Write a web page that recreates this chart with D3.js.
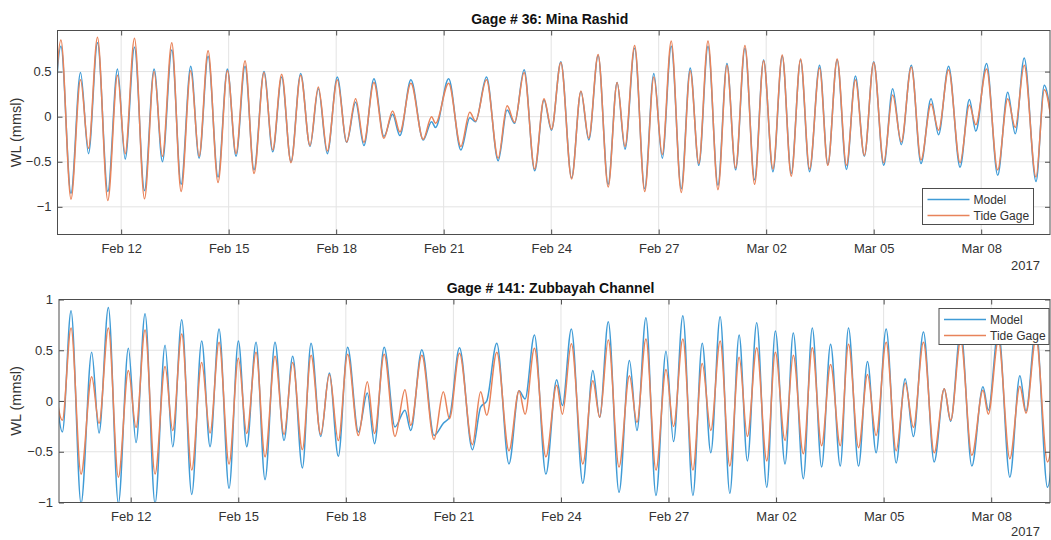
<!DOCTYPE html>
<html>
<head>
<meta charset="utf-8">
<script src="https://cdn.jsdelivr.net/npm/d3@7"></script>
<style>
  body { margin: 0; background: #fff; }
  svg text { font-family: "Liberation Sans", Arial, Helvetica, sans-serif; fill: #333; }
</style>
</head>
<body>
<svg id="chart" width="1051" height="540"></svg>
<script>
// high / low water turning points, days after 2017-02-10 00:00
var minaDays = [0.07, 0.32, 0.60, 0.866, 1.089, 1.34, 1.628, 1.898, 2.112, 2.372,
  2.651, 2.92, 3.152, 3.413, 3.673, 3.942, 4.175, 4.426, 4.704, 4.965,
  5.206, 5.457, 5.708, 5.987, 6.229, 6.48, 6.74, 7.009, 7.27, 7.502,
  7.753, 8.032, 8.292, 8.543, 8.775, 9.054, 9.333, 9.574, 9.779, 10.086,
  10.429, 10.662, 10.773, 11.14, 11.48, 11.73, 11.89, 12.195, 12.52, 12.77,
  12.98, 13.245, 13.54, 13.80, 14.01, 14.27, 14.57, 14.83, 15.05, 15.31,
  15.59, 15.84, 16.06, 16.33, 16.61, 16.865, 17.10, 17.35, 17.63, 17.88,
  18.12, 18.376, 18.654, 18.905, 19.147, 19.407, 19.677, 19.928, 20.188, 20.448,
  20.699, 20.96, 21.21, 21.49, 21.72, 21.98, 22.24, 22.49, 22.74, 23.00,
  23.28, 23.53, 23.77, 24.05, 24.32, 24.60, 24.81, 25.09, 25.41, 25.67,
  25.85, 26.15, 26.46, 26.74, 26.95, 27.20, 27.53, 27.76, 28.04];
var minaModel = [-0.6, 0.78, -0.85, 0.49, -0.41, 0.82, -0.83, 0.53, -0.47, 0.77,
  -0.82, 0.53, -0.50, 0.74, -0.75, 0.56, -0.46, 0.67, -0.67, 0.53,
  -0.44, 0.56, -0.59, 0.50, -0.39, 0.44, -0.50, 0.48, -0.33, 0.31,
  -0.41, 0.44, -0.285, 0.16, -0.32, 0.42, -0.22, 0.026, -0.21, 0.41,
  -0.26, -0.055, -0.12, 0.42, -0.37, -0.011, -0.056, 0.44, -0.49, 0.074,
  -0.074, 0.52, -0.60, 0.185, -0.15, 0.61, -0.68, 0.28, -0.26, 0.68,
  -0.75, 0.38, -0.36, 0.76, -0.80, 0.48, -0.46, 0.78, -0.80, 0.54,
  -0.54, 0.78, -0.76, 0.59, -0.59, 0.76, -0.70, 0.63, -0.61, 0.67,
  -0.63, 0.63, -0.61, 0.57, -0.53, 0.63, -0.585, 0.45, -0.44, 0.61,
  -0.54, 0.31, -0.31, 0.57, -0.52, 0.20, -0.20, 0.56, -0.56, 0.19,
  -0.16, 0.59, -0.65, 0.27, -0.19, 0.65, -0.72, 0.35, -0.35];
var minaGage = [-0.6, 0.85, -0.915, 0.41, -0.35, 0.88, -0.93, 0.46, -0.41, 0.87,
  -0.91, 0.50, -0.44, 0.82, -0.83, 0.51, -0.44, 0.73, -0.73, 0.51,
  -0.41, 0.62, -0.63, 0.49, -0.37, 0.47, -0.51, 0.46, -0.32, 0.33,
  -0.38, 0.41, -0.28, 0.20, -0.285, 0.38, -0.24, 0.063, -0.17, 0.37,
  -0.25, 0.0, -0.074, 0.37, -0.33, 0.048, -0.048, 0.41, -0.46, 0.12,
  -0.063, 0.49, -0.58, 0.20, -0.14, 0.60, -0.69, 0.285, -0.24, 0.69,
  -0.78, 0.38, -0.33, 0.79, -0.83, 0.44, -0.42, 0.84, -0.84, 0.51,
  -0.52, 0.84, -0.81, 0.57, -0.57, 0.79, -0.75, 0.62, -0.58, 0.685,
  -0.66, 0.64, -0.58, 0.54, -0.54, 0.64, -0.54, 0.41, -0.43, 0.60,
  -0.51, 0.24, -0.28, 0.55, -0.48, 0.14, -0.15, 0.52, -0.51, 0.13,
  -0.09, 0.53, -0.59, 0.20, -0.12, 0.57, -0.67, 0.30, -0.30];

var zubDays = [-0.16, 0.094, 0.336, 0.615, 0.912, 1.117, 1.377, 1.656, 1.935, 2.149, 2.40,
  2.679, 2.958, 3.172, 3.423, 3.702, 3.98, 4.213, 4.464, 4.743, 5.003,
  5.236, 5.496, 5.746, 6.025, 6.276, 6.518, 6.788, 7.03, 7.30, 7.54,
  7.79, 8.05, 8.35, 8.60, 8.80, 9.07, 9.37, 9.65, 9.81, 10.12,
  10.46, 10.72, 10.89, 11.17, 11.53, 11.76, 11.93, 12.21, 12.55, 12.83,
  13.0, 13.26, 13.58, 13.88, 14.04, 14.29, 14.61, 14.89, 15.08, 15.32,
  15.62, 15.91, 16.12, 16.37, 16.65, 16.93, 17.14, 17.40, 17.68, 17.94,
  18.18, 18.44, 18.71, 18.97, 19.20, 19.46, 19.74, 19.98, 20.25, 20.48,
  20.76, 21.01, 21.27, 21.52, 21.79, 22.02, 22.30, 22.55, 22.79, 23.07,
  23.35, 23.60, 23.83, 24.11, 24.41, 24.69, 24.87, 25.15, 25.46, 25.77,
  25.92, 26.20, 26.52, 26.80, 26.97, 27.25, 27.57, 27.85];
var zubModel = [0.5, -0.305, 0.89, -1.01, 0.48, -0.315, 0.92, -1.01, 0.52, -0.41, 0.86,
  -1.01, 0.55, -0.45, 0.80, -0.92, 0.59, -0.45, 0.71, -0.86, 0.59,
  -0.45, 0.58, -0.775, 0.58, -0.39, 0.44, -0.66, 0.57, -0.35, 0.276,
  -0.545, 0.53, -0.305, 0.08, -0.42, 0.53, -0.256, -0.09, -0.29, 0.506,
  -0.34, -0.22, -0.16, 0.525, -0.48, -0.06, 0.0, 0.57, -0.62, 0.10,
  0.02, 0.65, -0.72, 0.21, -0.045, 0.71, -0.81, 0.30, -0.16, 0.78,
  -0.90, 0.40, -0.29, 0.82, -0.93, 0.49, -0.40, 0.84, -0.93, 0.57,
  -0.51, 0.83, -0.91, 0.65, -0.59, 0.77, -0.85, 0.69, -0.62, 0.67,
  -0.765, 0.72, -0.65, 0.56, -0.64, 0.72, -0.64, 0.39, -0.51, 0.71,
  -0.61, 0.22, -0.35, 0.68, -0.60, 0.12, -0.20, 0.70, -0.64, 0.14,
  -0.09, 0.70, -0.75, 0.25, -0.10, 0.72, -0.85, 0.30];
var zubGage = [0.3, -0.19, 0.72, -0.72, 0.24, -0.22, 0.72, -0.75, 0.30, -0.26, 0.70,
  -0.72, 0.34, -0.29, 0.66, -0.68, 0.38, -0.315, 0.58, -0.62, 0.42,
  -0.32, 0.48, -0.55, 0.44, -0.33, 0.38, -0.48, 0.45, -0.33, 0.26,
  -0.39, 0.46, -0.34, 0.19, -0.32, 0.46, -0.35, 0.11, -0.24, 0.45,
  -0.38, 0.09, -0.174, 0.47, -0.43, 0.09, -0.14, 0.48, -0.49, 0.10,
  -0.13, 0.52, -0.55, 0.155, -0.13, 0.565, -0.62, 0.20, -0.16, 0.60,
  -0.65, 0.25, -0.21, 0.61, -0.68, 0.31, -0.25, 0.61, -0.68, 0.37,
  -0.29, 0.59, -0.64, 0.43, -0.35, 0.525, -0.59, 0.48, -0.39, 0.45,
  -0.52, 0.525, -0.44, 0.36, -0.44, 0.56, -0.46, 0.26, -0.34, 0.58,
  -0.49, 0.177, -0.26, 0.58, -0.51, 0.12, -0.19, 0.60, -0.535, 0.105,
  -0.13, 0.60, -0.57, 0.145, -0.12, 0.62, -0.60, 0.25];

var dateTicks = ['2017-02-12', '2017-02-15', '2017-02-18', '2017-02-21', '2017-02-24',
  '2017-02-27', '2017-03-02', '2017-03-05', '2017-03-08'];
var minaYTicks = [-1, -0.5, 0, 0.5];
var zubYTicks = [-1, -0.5, 0, 0.5, 1];
var seriesNames = ['Model', 'Tide Gage'];
var seriesColors = ['#3f9bd6', '#e8835a'];

(function() {
  'use strict';
  var svg = d3.select('#chart');
  var day0 = Date.UTC(2017, 1, 10);
  var toDate = function(d) { return new Date(day0 + d * 864e5); };
  var parse = d3.utcParse('%Y-%m-%d');
  var ticks = dateTicks.map(parse);
  var frameColor = '#4d4d4d';

  function drawPanel(p) {
    var x = d3.scaleUtc().domain([toDate(p.from), toDate(p.to)]).range([p.left, p.right]);
    var y = d3.scaleLinear().domain(p.yDomain).range([p.bottom, p.top]);
    var g = svg.append('g');

    g.append('clipPath').attr('id', 'clip-' + p.id)
      .append('rect').attr('x', p.left).attr('y', p.top)
      .attr('width', p.right - p.left).attr('height', p.bottom - p.top);

    // grid
    g.selectAll('line.vgrid').data(ticks).enter().append('line')
      .attr('x1', function(d) { return x(d); }).attr('x2', function(d) { return x(d); })
      .attr('y1', p.top).attr('y2', p.bottom)
      .attr('stroke', '#e3e3e3').attr('stroke-width', 1);
    g.selectAll('line.hgrid').data(p.yTicks).enter().append('line')
      .attr('x1', p.left).attr('x2', p.right)
      .attr('y1', function(d) { return y(d); }).attr('y2', function(d) { return y(d); })
      .attr('stroke', '#e3e3e3').attr('stroke-width', 1);

    // series
    var line = d3.line()
      .x(function(d) { return x(d.date); })
      .y(function(d) { return y(d.v); })
      .curve(d3.curveMonotoneX);
    p.series.forEach(function(vals, k) {
      var rows = p.days.map(function(d, i) { return { date: toDate(d), v: vals[i] }; });
      g.append('path').datum(rows)
        .attr('clip-path', 'url(#clip-' + p.id + ')')
        .attr('fill', 'none')
        .attr('stroke', seriesColors[k])
        .attr('stroke-width', 1.5)
        .attr('d', line);
    });

    // axes, ticks pointing inward
    var ax = g.append('g').attr('transform', 'translate(0,' + p.bottom + ')')
      .call(d3.axisBottom(x).tickValues(ticks).tickFormat(d3.utcFormat('%b %d'))
        .tickSizeInner(-5).tickSizeOuter(0).tickPadding(9));
    g.append('g').attr('transform', 'translate(0,' + p.top + ')')
      .call(d3.axisTop(x).tickValues(ticks).tickFormat('').tickSizeInner(-5).tickSizeOuter(0));
    var ay = g.append('g').attr('transform', 'translate(' + p.left + ',0)')
      .call(d3.axisLeft(y).tickValues(p.yTicks).tickFormat(d3.format('')).tickSizeInner(-5).tickSizeOuter(0).tickPadding(6));
    g.append('g').attr('transform', 'translate(' + p.right + ',0)')
      .call(d3.axisRight(y).tickValues(p.yTicks).tickFormat('').tickSizeInner(-5).tickSizeOuter(0));
    g.selectAll('.domain').remove();
    g.selectAll('.tick line').attr('stroke', frameColor);
    ax.selectAll('text').attr('font-size', 13).style('fill', '#333');
    ay.selectAll('text').attr('font-size', 13).style('fill', '#333');

    g.append('rect').attr('x', p.left).attr('y', p.top)
      .attr('width', p.right - p.left).attr('height', p.bottom - p.top)
      .attr('fill', 'none').attr('stroke', frameColor).attr('stroke-width', 1);

    g.append('text').attr('x', (p.left + p.right) / 2 - 4).attr('y', p.top - 7)
      .attr('text-anchor', 'middle').attr('font-size', 14).attr('font-weight', 'bold')
      .style('fill', '#111').text(p.title);
    g.append('text').attr('transform', 'translate(21,' + ((p.top + p.bottom) / 2) + ') rotate(-90)')
      .attr('text-anchor', 'middle').attr('font-size', 14.5).text('WL (mmsl)');
    g.append('text').attr('x', 1040).attr('y', p.yearY)
      .attr('text-anchor', 'end').attr('font-size', 13).text('2017');

    // legend
    var L = p.legend;
    var lg = g.append('g').attr('transform', 'translate(' + L.x + ',' + L.y + ')');
    lg.append('rect').attr('width', L.w).attr('height', L.h)
      .attr('fill', '#fff').attr('stroke', frameColor).attr('stroke-width', 1);
    seriesNames.forEach(function(name, k) {
      var ry = 11 + k * 16;
      lg.append('line').attr('x1', 5).attr('x2', 47).attr('y1', ry).attr('y2', ry)
        .attr('stroke', seriesColors[k]).attr('stroke-width', 1.5);
      lg.append('text').attr('x', 51).attr('y', ry + 4).attr('font-size', 12).text(name);
    });
  }

  drawPanel({
    id: 'mina', title: 'Gage # 36: Mina Rashid',
    left: 57.5, right: 1050, top: 30.5, bottom: 234.5,
    from: 0.224, to: 27.92, yDomain: [-1.307, 0.956], yTicks: minaYTicks,
    days: minaDays, series: [minaModel, minaGage], yearY: 270,
    legend: { x: 922.5, y: 188.5, w: 111, h: 36 }
  });
  drawPanel({
    id: 'zub', title: 'Gage # 141: Zubbayah Channel',
    left: 59, right: 1050, top: 299.5, bottom: 502.5,
    from: 0, to: 27.64, yDomain: [-1, 1], yTicks: zubYTicks,
    days: zubDays, series: [zubModel, zubGage], yearY: 536,
    legend: { x: 939, y: 308.5, w: 110, h: 36 }
  });
})();
</script>
</body>
</html>
